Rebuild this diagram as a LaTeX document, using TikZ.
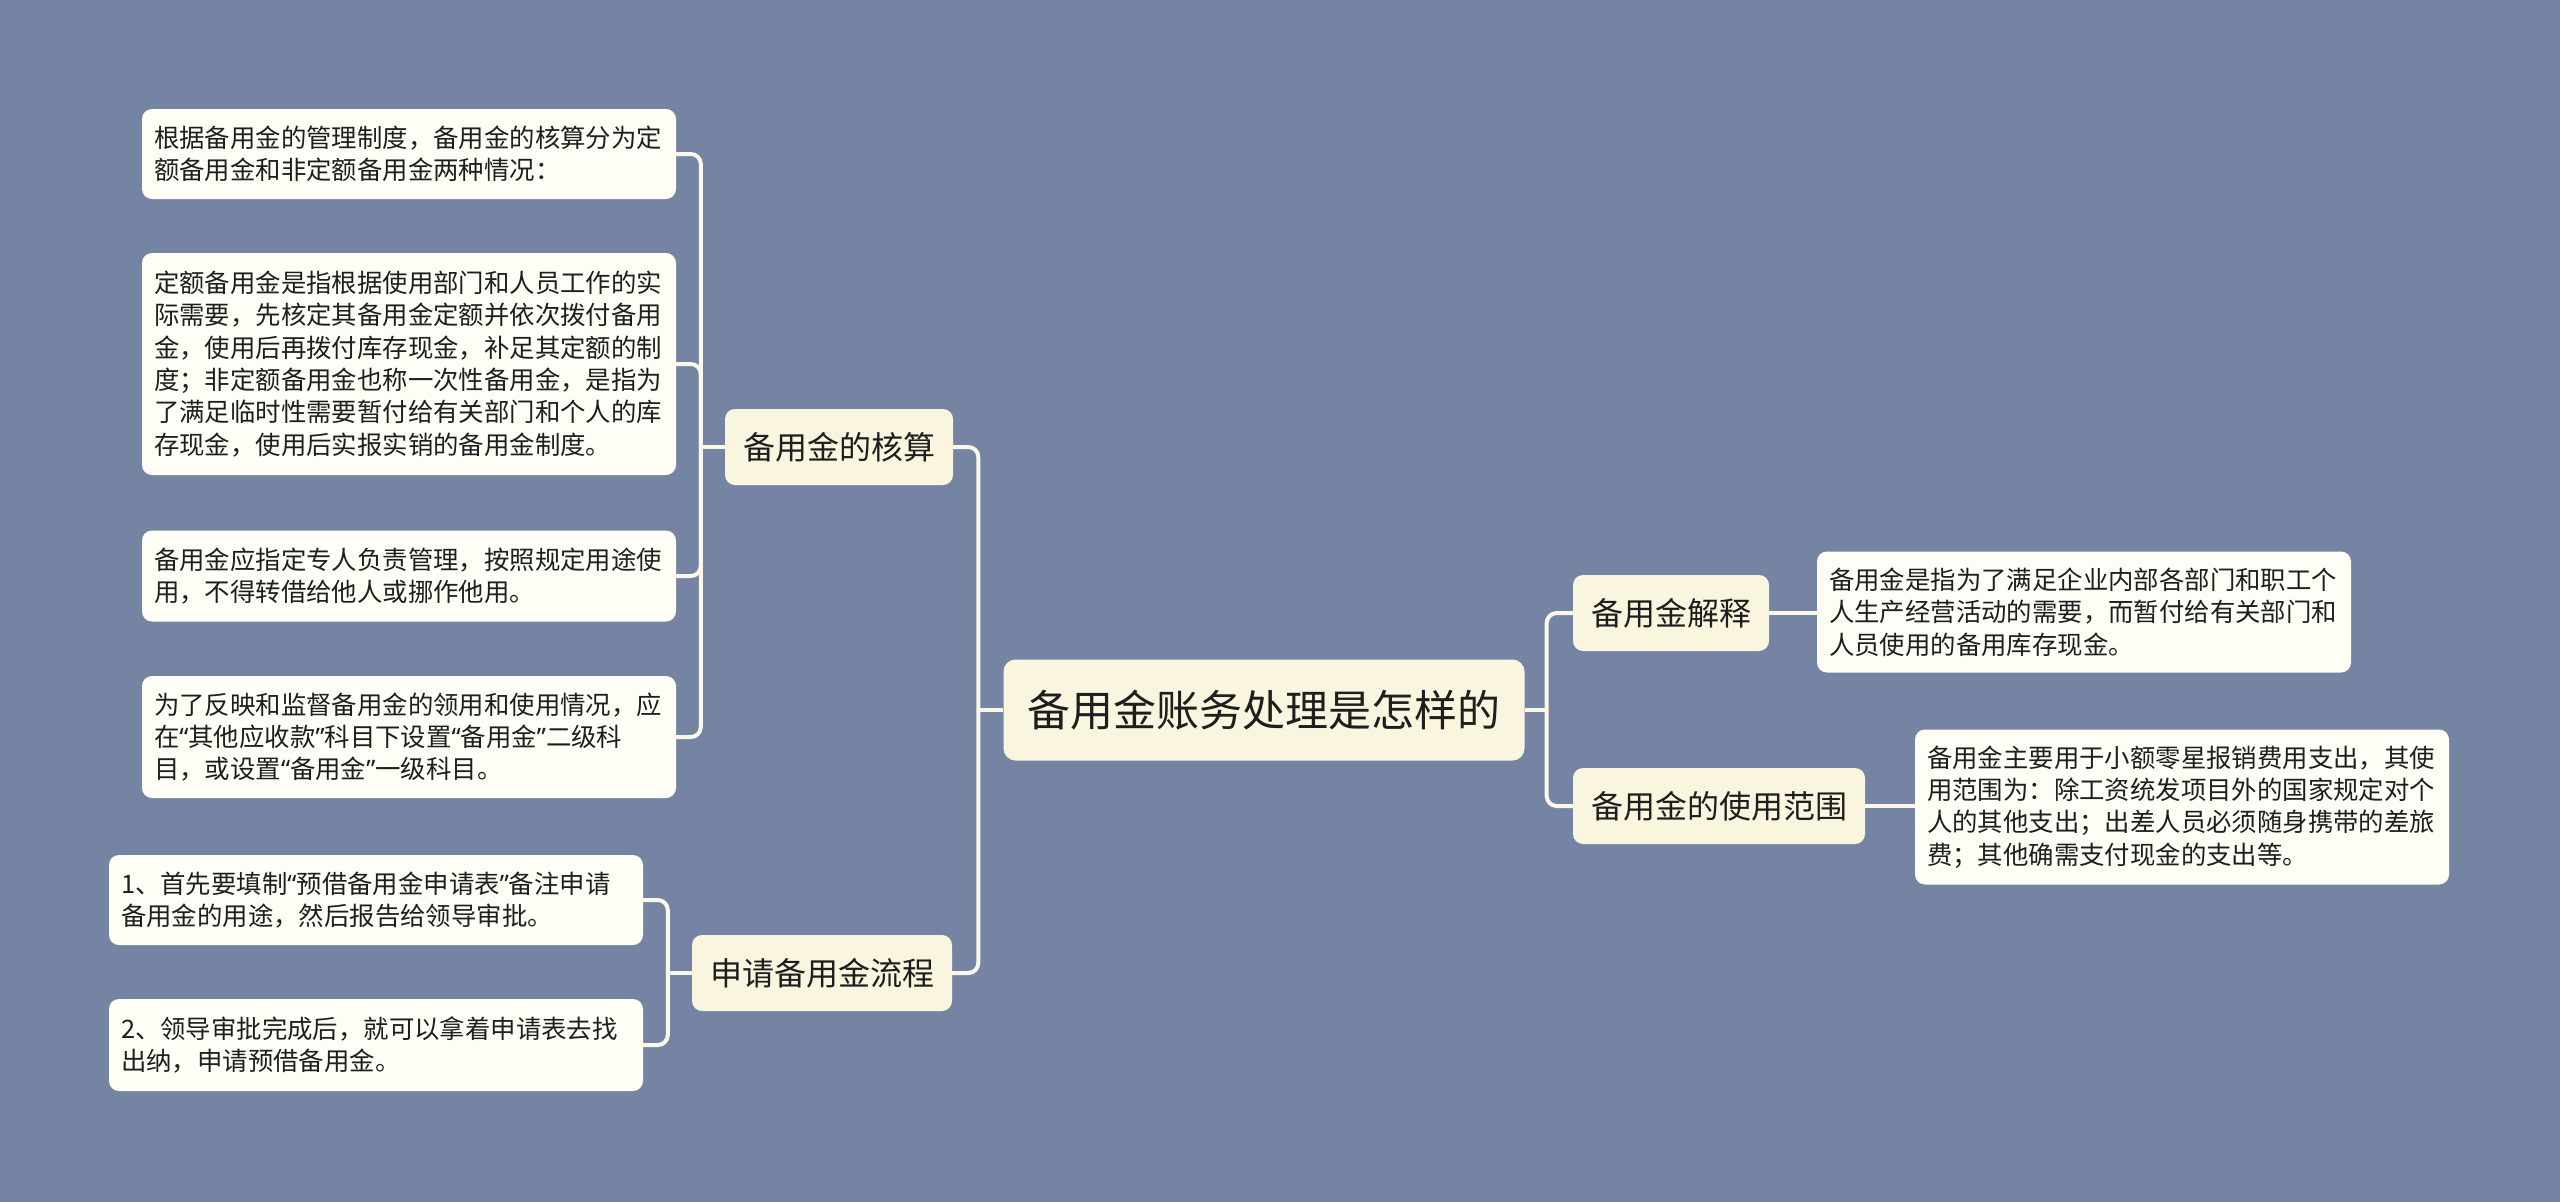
\documentclass[tikz,border=0pt]{standalone}
\usepackage{fontspec}
\setmainfont{Noto Sans CJK SC}
\newfontfamily\quotefont{Noto Sans}
\newcommand\qL{{\quotefont “}}
\newcommand\qR{{\quotefont ”}}
\usepackage{xcolor}
\definecolor{mmbg}{HTML}{7684A4}
\definecolor{mmcream}{HTML}{FAF5DF}
\definecolor{mmleaf}{HTML}{FEFEF6}
\definecolor{mmline}{HTML}{FBF8E9}
\definecolor{mmink}{HTML}{1E1E1E}
\usepackage{tikz}
\usetikzlibrary{positioning,backgrounds}

\begin{document}
\begin{tikzpicture}[
      x=1pt, y=-1pt,
      topic/.style={rounded corners=12pt, fill=mmcream, text=mmink,
                    font=\fontsize{43}{52}\selectfont, inner xsep=24pt,
                    inner ysep=0pt, minimum height=101pt},
      sub/.style={rounded corners=10pt, fill=mmcream, text=mmink,
                  font=\fontsize{32}{40}\selectfont, inner xsep=18pt,
                  inner ysep=0pt, minimum height=76pt},
      leaf/.style={rounded corners=10pt, fill=mmleaf, text=mmink,
                   font=\fontsize{25.4}{32.3}\selectfont, text width=510pt,
                   align=left, inner xsep=12pt, inner ysep=0pt},
      link/.style={draw=mmline, line width=4pt, rounded corners=10pt},
    ]

    \useasboundingbox (0,0) rectangle (2560,1202);

    % ---------- centre ----------
    \node[topic] (root) at (1264,710) {备用金账务处理是怎样的};

    % ---------- left branches ----------
    \node[sub] (hesuan) at (839,447) {备用金的核算};
    \node[sub] (liucheng) at (822,973) {申请备用金流程};

    \node[leaf, minimum height=90pt] (hs1) at (409,154)
      {根据备用金的管理制度，备用金的核算分为定\\额备用金和非定额备用金两种情况：};
    \node[leaf, minimum height=222pt] (hs2) at (409,364)
      {定额备用金是指根据使用部门和人员工作的实\\际需要，先核定其备用金定额并依次拨付备用\\金，使用后再拨付库存现金，补足其定额的制\\度；非定额备用金也称一次性备用金，是指为\\了满足临时性需要暂付给有关部门和个人的库\\存现金，使用后实报实销的备用金制度。};
    \node[leaf, minimum height=91pt] (hs3) at (409,576)
      {备用金应指定专人负责管理，按照规定用途使\\用，不得转借给他人或挪作他用。};
    \node[leaf, minimum height=122pt] (hs4) at (409,737)
      {为了反映和监督备用金的领用和使用情况，应\\在\qL 其他应收款\qR 科目下设置\qL 备用金\qR 二级科\\目，或设置\qL 备用金\qR 一级科目。};

    \node[leaf, minimum height=90pt] (lc1) at (376,900)
      {1、首先要填制\qL 预借备用金申请表\qR 备注申请\\备用金的用途，然后报告给领导审批。};
    \node[leaf, minimum height=92pt] (lc2) at (376,1045)
      {2、领导审批完成后，就可以拿着申请表去找\\出纳，申请预借备用金。};

    % ---------- right branches ----------
    \node[sub] (jieshi) at (1671,613) {备用金解释};
    \node[sub] (fanwei) at (1719,806) {备用金的使用范围};

    \node[leaf, minimum height=121pt] (js1) at (2084,612)
      {备用金是指为了满足企业内部各部门和职工个\\人生产经营活动的需要，而暂付给有关部门和\\人员使用的备用库存现金。};
    \node[leaf, minimum height=155pt] (fw1) at (2182,807)
      {备用金主要用于小额零星报销费用支出，其使\\用范围为：除工资统发项目外的国家规定对个\\人的其他支出；出差人员必须随身携带的差旅\\费；其他确需支付现金的支出等。};

    % ---------- spines ----------
    \coordinate (rootL) at ([xshift=-25pt]root.west);
    \coordinate (rootR) at ([xshift=22pt]root.east);
    \coordinate (hsL) at ([xshift=-24pt]hesuan.west);
    \coordinate (lcL) at ([xshift=-24pt]liucheng.west);

    % ---------- connectors ----------
    \begin{scope}[on background layer]
      \fill[mmbg] (0,0) rectangle (2560,1202);
      \draw[link] (root.west) -- (rootL);
      \draw[link] (rootL) |- (hesuan.east);
      \draw[link] (rootL) |- (liucheng.east);
      \draw[link] (root.east) -- (rootR);
      \draw[link] (rootR) |- (jieshi.west);
      \draw[link] (rootR) |- (fanwei.west);
      \draw[link] (hesuan.west) -- (hsL);
      \foreach \n in {hs1,hs2,hs3,hs4}
        \draw[link] (hsL) |- (\n.east);
      \draw[link] (liucheng.west) -- (lcL);
      \foreach \n in {lc1,lc2}
        \draw[link] (lcL) |- (\n.east);
      \draw[link] (jieshi.east) -- (jieshi.east -| js1.west);
      \draw[link] (fanwei.east) -- (fanwei.east -| fw1.west);
    \end{scope}

  \end{tikzpicture}
\end{document}
